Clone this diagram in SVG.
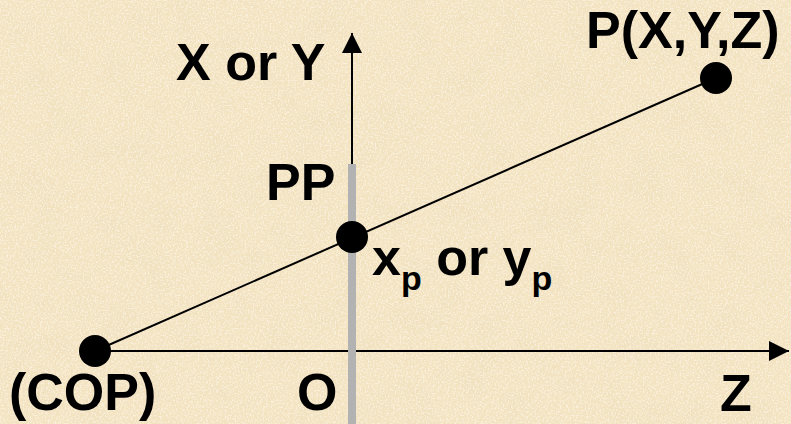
<svg xmlns="http://www.w3.org/2000/svg" width="791" height="424" viewBox="0 0 791 424">
  <defs>
    <filter id="parch" x="0" y="0" width="100%" height="100%">
      <feTurbulence type="fractalNoise" baseFrequency="0.03" numOctaves="5" seed="7" result="n"/>
      <feColorMatrix in="n" type="matrix" values="0 0 0 0 0.87  0 0 0 0 0.75  0 0 0 0 0.52  -5 0 0 0 2.6" result="spots"/>
      <feComposite in="spots" in2="SourceGraphic" operator="in"/>
    </filter>
    <filter id="grain" x="0" y="0" width="100%" height="100%">
      <feTurbulence type="fractalNoise" baseFrequency="0.6" numOctaves="2" seed="3" result="g"/>
      <feColorMatrix in="g" type="matrix" values="0 0 0 0 1  0 0 0 0 0.97  0 0 0 0 0.9  5 0 0 0 -2.4" result="light"/>
      <feComposite in="light" in2="SourceGraphic" operator="in"/>
    </filter>
    <marker id="arr" viewBox="0 0 20 20" refX="20" refY="10" markerWidth="20" markerHeight="20" markerUnits="userSpaceOnUse" orient="auto">
      <path d="M0,0 L20,10 L0,20 Z" fill="#000"/>
    </marker>
    <style>
      .lbl { font-family: "Liberation Sans", Arial, sans-serif; font-weight: bold; font-size: 52px; fill: #000; }
      .sub { font-size: 34px; }
      .ln { stroke: #000; stroke-width: 2; fill: none; }
      .dot { fill: #000; }
    </style>
  </defs>
  <rect width="791" height="424" fill="#f3e3c1"/>
  <rect width="791" height="424" fill="#f3e3c1" filter="url(#parch)" opacity="0.6"/>
  <rect width="791" height="424" fill="#f3e3c1" filter="url(#grain)" opacity="0.5"/>

  <g id="connectors">
    <line class="ln" x1="352" y1="351" x2="352" y2="33" marker-end="url(#arr)"/>
    <line class="ln" x1="95" y1="351" x2="789" y2="351" marker-end="url(#arr)"/>
    <line class="ln" x1="95" y1="351" x2="716" y2="78"/>
  </g>

  <g id="pp-plane">
    <rect x="348" y="164" width="8" height="260" fill="#b2b2b2"/>
  </g>

  <g id="cop">
    <circle class="dot" cx="95" cy="351" r="16"/>
    <text class="lbl" x="9" y="410">(COP)</text>
  </g>
  <g id="origin">
    <text class="lbl" x="297" y="410">O</text>
  </g>
  <g id="z-axis-label">
    <text class="lbl" x="720" y="411">Z</text>
  </g>
  <g id="xy-axis-label">
    <text class="lbl" x="176" y="80">X or Y</text>
  </g>
  <g id="pp-label">
    <text class="lbl" x="266" y="200">PP</text>
  </g>
  <g id="projection-point">
    <circle class="dot" cx="352" cy="237" r="16"/>
    <text class="lbl" x="372" y="275">x<tspan class="sub" dy="15">p</tspan><tspan dy="-15"> or y</tspan><tspan class="sub" dy="15">p</tspan></text>
  </g>
  <g id="point-p">
    <circle class="dot" cx="716" cy="78" r="16"/>
    <text class="lbl" x="586" y="48">P(X,Y,Z)</text>
  </g>
</svg>
